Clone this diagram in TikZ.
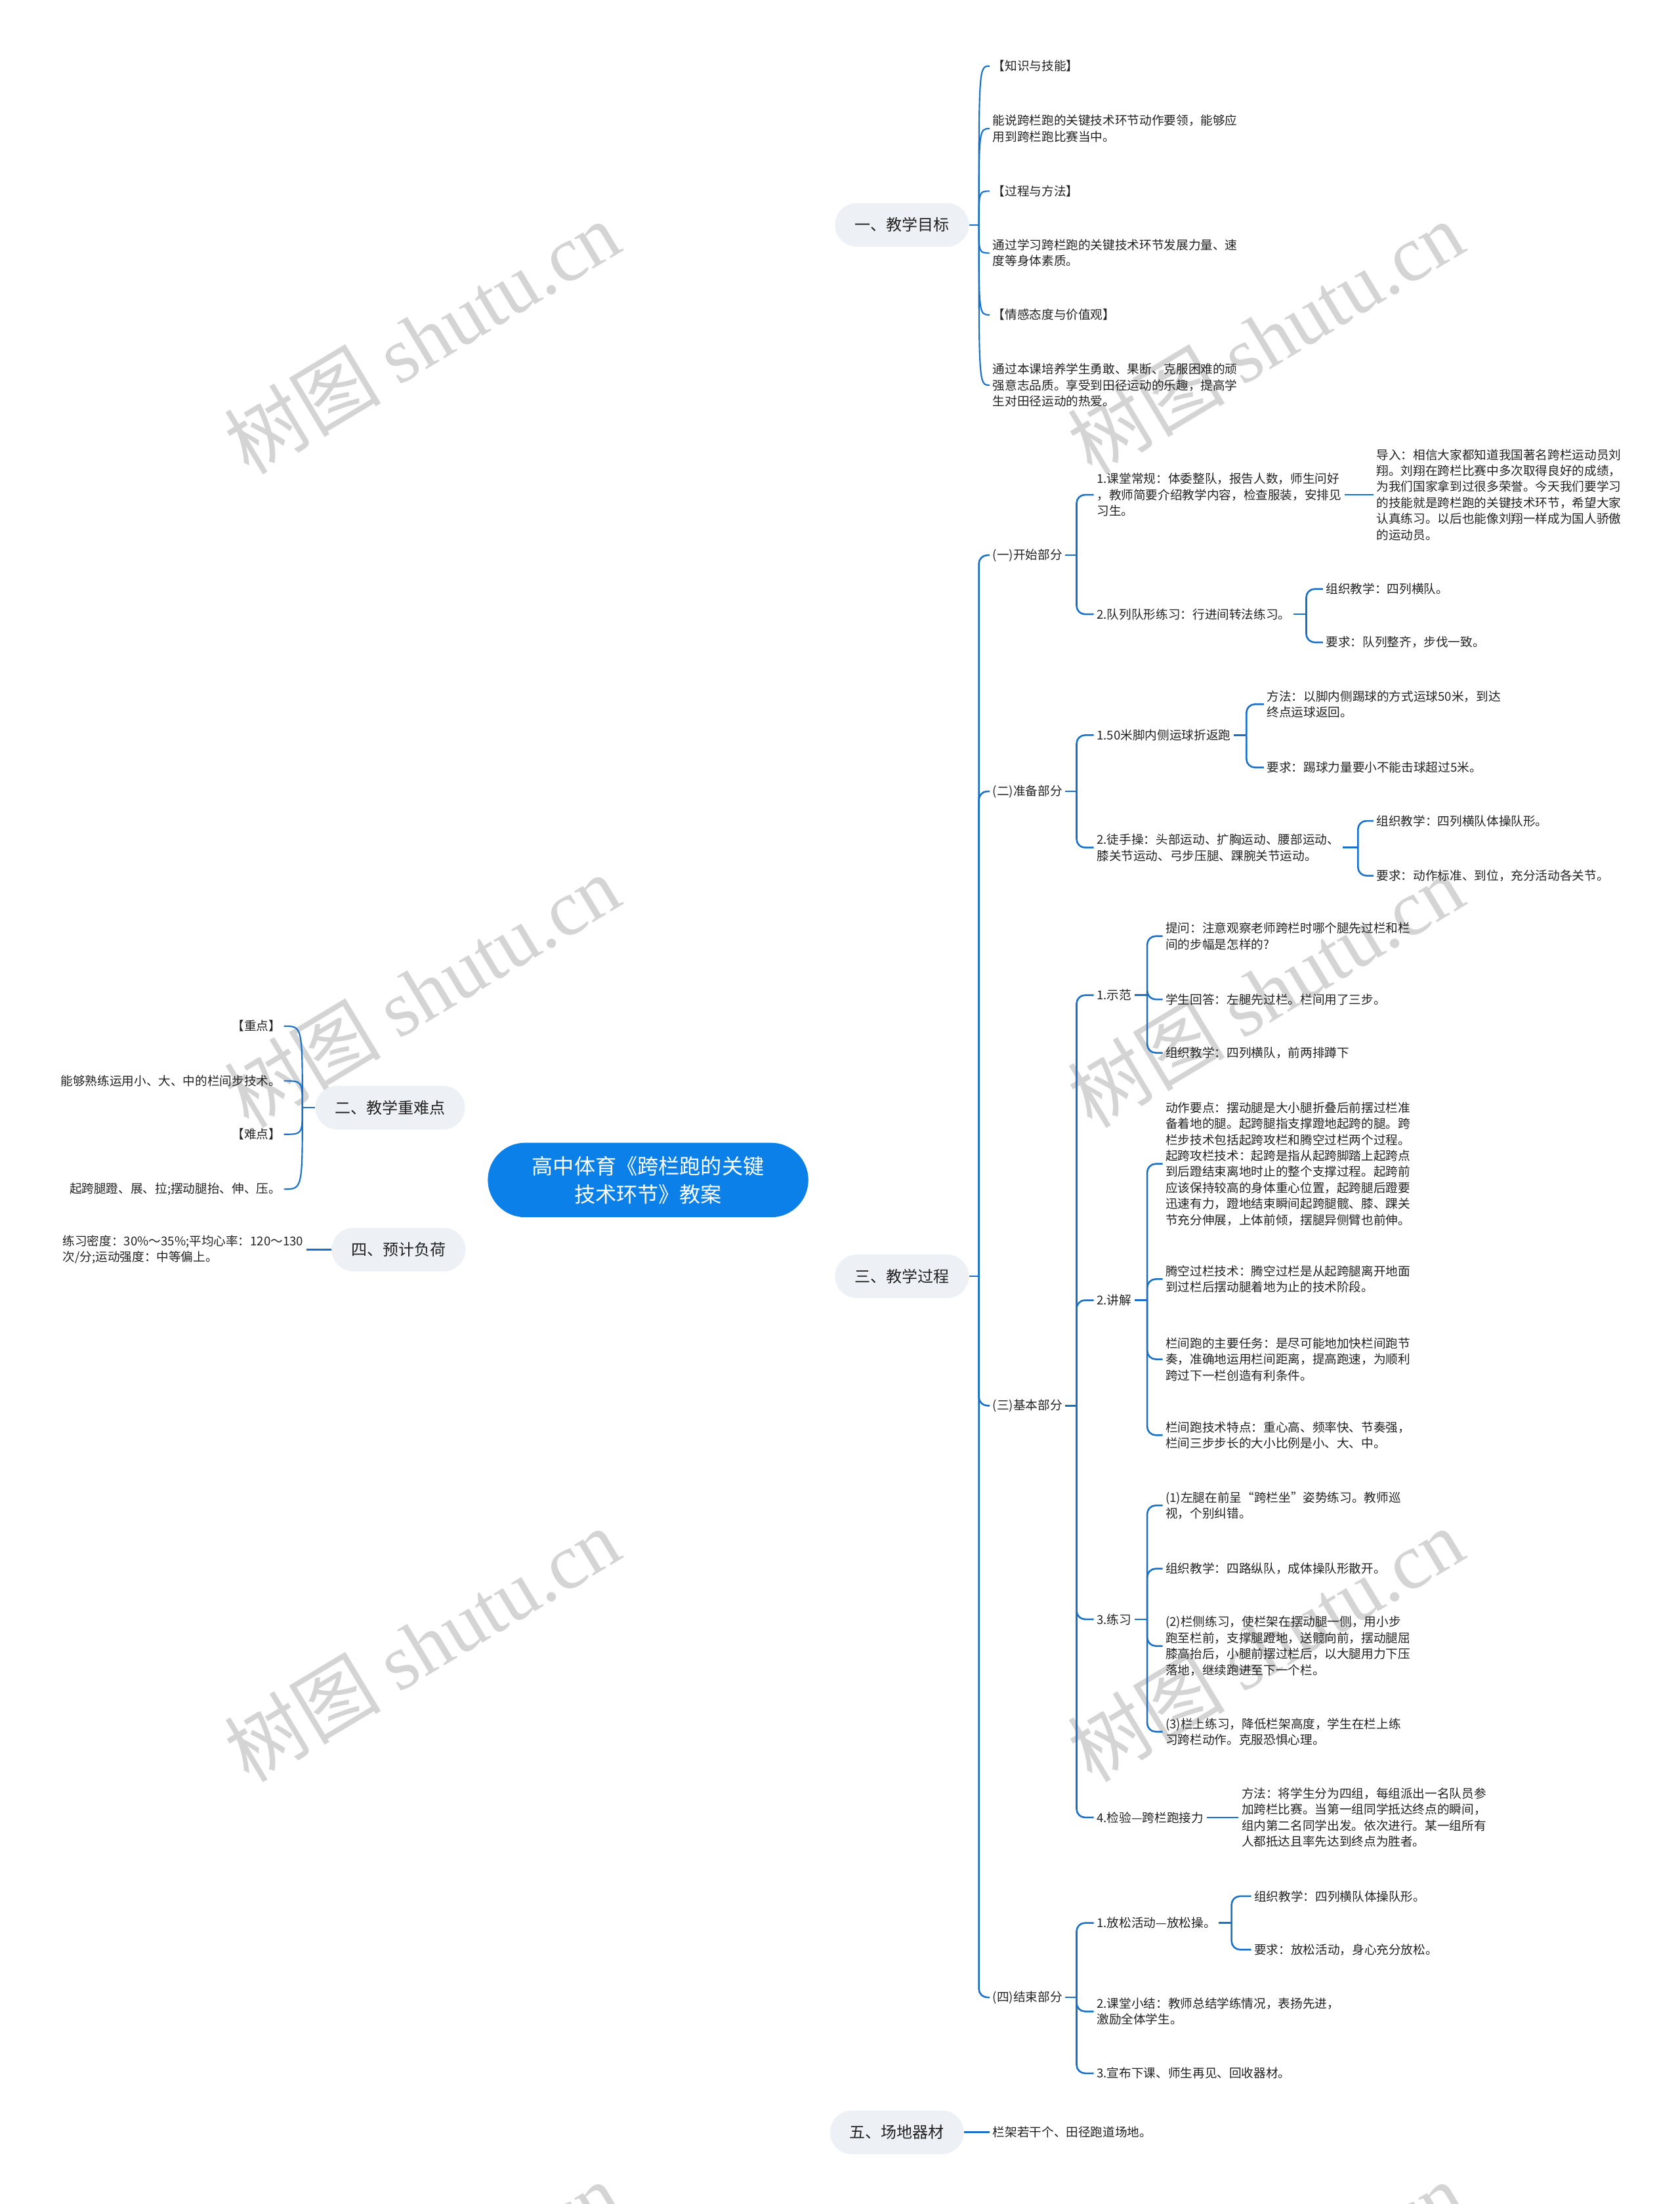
\documentclass[tikz,border=0pt]{standalone}
\usepackage{fontspec}
\setmainfont{Noto Sans CJK SC}
\newfontfamily\wmlat{Liberation Serif}
\usetikzlibrary{backgrounds,calc}
\definecolor{lc}{RGB}{24,112,200}
\definecolor{rootc}{RGB}{10,128,232}
\definecolor{pillc}{RGB}{237,241,246}
\definecolor{txt}{RGB}{34,34,34}
\definecolor{wm}{RGB}{212,212,212}
\tikzset{
 leafR/.style={font=\fontsize{8.7}{11.4}\selectfont, text=txt, align=left, inner xsep=2pt, inner ysep=1pt, anchor=west},
 leafL/.style={leafR, anchor=east},
 pill/.style={fill=pillc, rounded corners=15.5pt, minimum height=31pt, inner xsep=14pt, font=\fontsize{11.2}{13}\selectfont, text=txt},
 rootn/.style={fill=rootc, rounded corners=26.5pt, minimum width=228pt, minimum height=53pt, align=center, text=white, font=\fontsize{15}{20}\selectfont},
 ln/.style={draw=lc, line width=1.2pt, rounded corners=6pt},
 cln/.style={draw=lc, line width=1pt},
 rln/.style={draw=lc, line width=1.4pt},
 wmk/.style={text=wm, rotate=31, font=\fontsize{56}{60}\selectfont}
}
\begin{document}
\begin{tikzpicture}[x=1pt,y=-1pt]
\fill[white] (0,0) rectangle (1195,1568);
\useasboundingbox (0,0) rectangle (1195,1568);
\clip (0,0) rectangle (1195,1568);
% watermarks
\foreach \wx/\wy [count=\i] in {300/240,900/240,300/705,900/705,300/1170,900/1170,300/1635,900/1635}{
  \node[wmk] (wm\i) at (\wx,\wy) {树图 {\wmlat shutu.cn}};
}
% root
\node[rootn] (root) at (461,839.5) {高中体育《跨栏跑的关键\\技术环节》教案};
% level 1
\node[pill] (L1) at (641.5,160) {一、教学目标};
\node[pill] (L3) at (641.5,908) {三、教学过程};
\node[pill] (L5) at (638,1517) {五、场地器材};
\node[pill] (L2) at (277.5,788) {二、教学重难点};
\node[pill] (L4) at (283.5,889) {四、预计负荷};
% 一
\node[leafR] (a1) at (704,47) {【知识与技能】};
\node[leafR] (a2) at (704,91.5) {能说跨栏跑的关键技术环节动作要领，能够应\\用到跨栏跑比赛当中。};
\node[leafR] (a3) at (704,136) {【过程与方法】};
\node[leafR] (a4) at (704,180) {通过学习跨栏跑的关键技术环节发展力量、速\\度等身体素质。};
\node[leafR] (a5) at (704,224) {【情感态度与价值观】};
\node[leafR] (a6) at (704,274) {通过本课培养学生勇敢、果断、克服困难的顽\\强意志品质。享受到田径运动的乐趣，提高学\\生对田径运动的热爱。};
% 三
\node[leafR] (b1) at (704,395) {(一)开始部分};
\node[leafR] (b2) at (704,563) {(二)准备部分};
\node[leafR] (b3) at (704,1000) {(三)基本部分};
\node[leafR] (b4) at (704,1421) {(四)结束部分};
% 开始部分
\node[leafR] (c1) at (778,352) {1.课堂常规：体委整队，报告人数，师生问好\\，教师简要介绍教学内容，检查服装，安排见\\习生。};
\node[leafR] (d1) at (977,352) {导入：相信大家都知道我国著名跨栏运动员刘\\翔。刘翔在跨栏比赛中多次取得良好的成绩，\\为我们国家拿到过很多荣誉。今天我们要学习\\的技能就是跨栏跑的关键技术环节，希望大家\\认真练习。以后也能像刘翔一样成为国人骄傲\\的运动员。};
\node[leafR] (c2) at (778,437) {2.队列队形练习：行进间转法练习。};
\node[leafR] (e1) at (941,419) {组织教学：四列横队。};
\node[leafR] (e2) at (941,457) {要求：队列整齐，步伐一致。};
% 准备部分
\node[leafR] (f1) at (778,523) {1.50米脚内侧运球折返跑};
\node[leafR] (g1) at (899,501) {方法：以脚内侧踢球的方式运球50米，到达\\终点运球返回。};
\node[leafR] (g2) at (899,546) {要求：踢球力量要小不能击球超过5米。};
\node[leafR] (f2) at (778,603) {2.徒手操：头部运动、扩胸运动、腰部运动、\\膝关节运动、弓步压腿、踝腕关节运动。};
\node[leafR] (h1) at (977,584) {组织教学：四列横队体操队形。};
\node[leafR] (h2) at (977,623) {要求：动作标准、到位，充分活动各关节。};
% 基本部分
\node[leafR] (i1) at (778,708) {1.示范};
\node[leafR] (j1) at (827,666) {提问：注意观察老师跨栏时哪个腿先过栏和栏\\间的步幅是怎样的?};
\node[leafR] (j2) at (827,711) {学生回答：左腿先过栏。栏间用了三步。};
\node[leafR] (j3) at (827,749) {组织教学：四列横队，前两排蹲下};
\node[leafR] (i2) at (778,925) {2.讲解};
\node[leafR] (k1) at (827,828) {动作要点：摆动腿是大小腿折叠后前摆过栏准\\备着地的腿。起跨腿指支撑蹬地起跨的腿。跨\\栏步技术包括起跨攻栏和腾空过栏两个过程。\\起跨攻栏技术：起跨是指从起跨脚踏上起跨点\\到后蹬结束离地时止的整个支撑过程。起跨前\\应该保持较高的身体重心位置，起跨腿后蹬要\\迅速有力，蹬地结束瞬间起跨腿髋、膝、踝关\\节充分伸展，上体前倾，摆腿异侧臂也前伸。};
\node[leafR] (k2) at (827,910) {腾空过栏技术：腾空过栏是从起跨腿离开地面\\到过栏后摆动腿着地为止的技术阶段。};
\node[leafR] (k3) at (827,967) {栏间跑的主要任务：是尽可能地加快栏间跑节\\奏，准确地运用栏间距离，提高跑速，为顺利\\跨过下一栏创造有利条件。};
\node[leafR] (k4) at (827,1021) {栏间跑技术特点：重心高、频率快、节奏强，\\栏间三步步长的大小比例是小、大、中。};
\node[leafR] (i3) at (778,1152) {3.练习};
\node[leafR] (l1) at (827,1071) {(1)左腿在前呈“跨栏坐”姿势练习。教师巡\\视，个别纠错。};
\node[leafR] (l2) at (827,1116) {组织教学：四路纵队，成体操队形散开。};
\node[leafR] (l3) at (827,1171) {(2)栏侧练习，使栏架在摆动腿一侧，用小步\\跑至栏前，支撑腿蹬地，送髋向前，摆动腿屈\\膝高抬后，小腿前摆过栏后，以大腿用力下压\\落地，继续跑进至下一个栏。};
\node[leafR] (l4) at (827,1232) {(3)栏上练习，降低栏架高度，学生在栏上练\\习跨栏动作。克服恐惧心理。};
\node[leafR] (i4) at (778,1293) {4.检验—跨栏跑接力};
\node[leafR] (m1) at (881,1293) {方法：将学生分为四组，每组派出一名队员参\\加跨栏比赛。当第一组同学抵达终点的瞬间，\\组内第二名同学出发。依次进行。某一组所有\\人都抵达且率先达到终点为胜者。};
% 结束部分
\node[leafR] (n1) at (778,1368) {1.放松活动—放松操。};
\node[leafR] (o1) at (890,1349) {组织教学：四列横队体操队形。};
\node[leafR] (o2) at (890,1387) {要求：放松活动，身心充分放松。};
\node[leafR] (n2) at (778,1431) {2.课堂小结：教师总结学练情况，表扬先进，\\激励全体学生。};
\node[leafR] (n3) at (778,1475) {3.宣布下课、师生再见、回收器材。};
% 五
\node[leafR] (p1) at (704,1517) {栏架若干个、田径跑道场地。};
% 二
\node[leafL] (q1) at (202,730) {【重点】};
\node[leafL] (q2) at (202,769) {能够熟练运用小、大、中的栏间步技术。};
\node[leafL] (q3) at (202,807) {【难点】};
\node[leafL] (q4) at (202,846) {起跨腿蹬、展、拉;摆动腿抬、伸、压。};
% 四
\node[leafL] (r1) at (218,889) {练习密度：30\%～35\%;平均心率：120～130\\次/分;运动强度：中等偏上。};

\begin{pgfonlayer}{background}
% root connectors
\draw[rln] (root.center) .. controls (461,330) and (490,160) .. (L1.west);
\draw[rln] (root.center) .. controls (462,1330) and (495,1517) .. (L5.west);
\draw[rln] (root.center) .. controls (470,905) and (530,908) .. (L3.west);
\draw[rln] (root.center) .. controls (445,788) and (380,788) .. (L2.east);
\draw[rln] (root.center) .. controls (445,889) and (380,889) .. (L4.east);
\end{pgfonlayer}

% 一 bracket (curved)
\draw[cln] (L1.east) -- ++(7,0) coordinate (L1j);
\foreach \c in {a1,a2,a3,a4,a5,a6}{
  \draw[cln] (L1j) .. controls (L1j |- \c.west) and (L1j |- \c.west) .. (\c.west);
}
% 二 bracket (curved)
\draw[cln] (L2.west) -- ++(-9,0) coordinate (L2j);
\foreach \c in {q1,q2,q3,q4}{
  \draw[cln] (L2j) .. controls (L2j |- \c.east) and (L2j |- \c.east) .. (\c.east);
}
% 四, 五 single
\draw[rln] (L4.west) -- (r1.east);
\draw[rln] (L5.east) -- (p1.west);
% 三 bracket
\draw[ln] (L3.east) -- ++(7,0) coordinate (L3j);
\foreach \c in {b1,b2,b3,b4}{ \draw[ln] (L3j) |- (\c.west); }
% b1
\draw[ln] (b1.east) -- ++(8,0) coordinate (b1j);
\foreach \c in {c1,c2}{ \draw[ln] (b1j) |- (\c.west); }
\draw[ln] (c1.east) -- (d1.west);
\draw[ln] (c2.east) -- ++(9,0) coordinate (c2j);
\foreach \c in {e1,e2}{ \draw[ln] (c2j) |- (\c.west); }
% b2
\draw[ln] (b2.east) -- ++(8,0) coordinate (b2j);
\foreach \c in {f1,f2}{ \draw[ln] (b2j) |- (\c.west); }
\draw[ln] (f1.east) -- ++(9,0) coordinate (f1j);
\foreach \c in {g1,g2}{ \draw[ln] (f1j) |- (\c.west); }
\draw[ln] (f2.east) -- ++(11,0) coordinate (f2j);
\foreach \c in {h1,h2}{ \draw[ln] (f2j) |- (\c.west); }
% b3
\draw[ln] (b3.east) -- ++(8,0) coordinate (b3j);
\foreach \c in {i1,i2,i3,i4}{ \draw[ln] (b3j) |- (\c.west); }
\draw[ln] (i1.east) -- ++(9,0) coordinate (i1j);
\foreach \c in {j1,j2,j3}{ \draw[ln] (i1j) |- (\c.west); }
\draw[ln] (i2.east) -- ++(9,0) coordinate (i2j);
\foreach \c in {k1,k2,k3,k4}{ \draw[ln] (i2j) |- (\c.west); }
\draw[ln] (i3.east) -- ++(9,0) coordinate (i3j);
\foreach \c in {l1,l2,l3,l4}{ \draw[ln] (i3j) |- (\c.west); }
\draw[ln] (i4.east) -- (m1.west);
% b4
\draw[ln] (b4.east) -- ++(8,0) coordinate (b4j);
\foreach \c in {n1,n2,n3}{ \draw[ln] (b4j) |- (\c.west); }
\draw[ln] (n1.east) -- ++(9,0) coordinate (n1j);
\foreach \c in {o1,o2}{ \draw[ln] (n1j) |- (\c.west); }
\end{tikzpicture}
\end{document}
